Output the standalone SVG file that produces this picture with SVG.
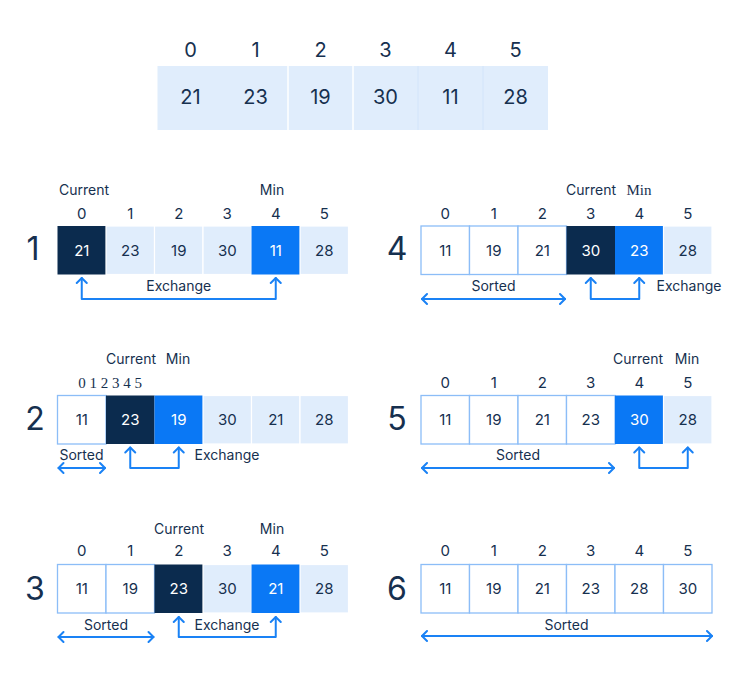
<svg xmlns="http://www.w3.org/2000/svg" width="735" height="684" viewBox="0 0 735 684">
<style>
text{font-family:Inter,"Open Sans","Liberation Sans",sans-serif;fill:#16304f;text-anchor:middle}
.idx{font-size:15px}
.top{font-size:20px}
.val{font-size:15px}
.wt{fill:#ffffff}
.lbl{font-size:14px}
.big{font-size:32px}
.serif{font-family:"Liberation Serif","DejaVu Serif",serif;font-size:15px}
.lt{fill:#e0edfc;stroke:#ffffff;stroke-width:1.2}
.sw{fill:#ffffff;stroke:#8cbdf7;stroke-width:1.3}
.dk{fill:#0b2b4e}
.bl{fill:#0a78f5}
.arr{fill:none;stroke:#1a82f5;stroke-width:2;stroke-linecap:round;stroke-linejoin:round}
</style>

<g id="initial">
<rect x="157.5" y="66" width="390.5" height="64" fill="#e0edfc"/>
<line x1="288" y1="66" x2="288" y2="130" stroke="#ffffff" stroke-width="1.5"/>
<line x1="353" y1="66" x2="353" y2="130" stroke="#ffffff" stroke-width="1.5"/>
<line x1="418" y1="66" x2="418" y2="130" stroke="#d2e4fa" stroke-width="1"/>
<line x1="483" y1="66" x2="483" y2="130" stroke="#d2e4fa" stroke-width="1"/>
<text class="top" x="190.5" y="57">0</text><text class="top" x="255.5" y="57">1</text><text class="top" x="320.5" y="57">2</text><text class="top" x="385.5" y="57">3</text><text class="top" x="450.5" y="57">4</text><text class="top" x="515.5" y="57">5</text>
<text class="top" x="190.5" y="104">21</text><text class="top" x="255.5" y="104">23</text><text class="top" x="320.5" y="104">19</text><text class="top" x="385.5" y="104">30</text><text class="top" x="450.5" y="104">11</text><text class="top" x="515.5" y="104">28</text>
</g>

<g id="step1">
<text class="big" x="33" y="260">1</text>
<text class="lbl" x="84" y="195">Current</text>
<text class="lbl" x="272" y="195">Min</text>
<rect class="dk" x="57.5" y="226" width="48.5" height="48.5"/>
<rect class="lt" x="106" y="226" width="48.5" height="48.5"/>
<rect class="lt" x="154.5" y="226" width="48.5" height="48.5"/>
<rect class="lt" x="203" y="226" width="48.5" height="48.5"/>
<rect class="bl" x="251.5" y="226" width="48.5" height="48.5"/>
<rect class="lt" x="300" y="226" width="48.5" height="48.5"/>
<text class="idx" x="81.75" y="219">0</text><text class="idx" x="130.25" y="219">1</text><text class="idx" x="178.75" y="219">2</text><text class="idx" x="227.25" y="219">3</text><text class="idx" x="275.75" y="219">4</text><text class="idx" x="324.25" y="219">5</text>
<text class="val wt" x="81.75" y="255.5">21</text><text class="val" x="130.25" y="255.5">23</text><text class="val" x="178.75" y="255.5">19</text><text class="val" x="227.25" y="255.5">30</text><text class="val wt" x="275.75" y="255.5">11</text><text class="val" x="324.25" y="255.5">28</text>
<text class="lbl" x="178.75" y="291">Exchange</text>
</g>

<g id="step2">
<text class="big" x="35" y="430">2</text>
<text class="lbl" x="131" y="364">Current</text>
<text class="lbl" x="178" y="364">Min</text>
<text class="serif" x="110" y="388">0 1 2 3 4 5</text>
<rect class="sw" x="57.5" y="395.5" width="48.5" height="48.5"/>
<rect class="dk" x="106" y="395.5" width="48.5" height="48.5"/>
<rect class="bl" x="154.5" y="395.5" width="48.5" height="48.5"/>
<rect class="lt" x="203" y="395.5" width="48.5" height="48.5"/>
<rect class="lt" x="251.5" y="395.5" width="48.5" height="48.5"/>
<rect class="lt" x="300" y="395.5" width="48.5" height="48.5"/>
<text class="val" x="81.75" y="425">11</text><text class="val wt" x="130.25" y="425">23</text><text class="val wt" x="178.75" y="425">19</text><text class="val" x="227.25" y="425">30</text><text class="val" x="275.75" y="425">21</text><text class="val" x="324.25" y="425">28</text>
<text class="lbl" x="81.5" y="460">Sorted</text>
<text class="lbl" x="227" y="460">Exchange</text>
</g>

<g id="step3">
<text class="big" x="35" y="600">3</text>
<text class="lbl" x="179" y="534">Current</text>
<text class="lbl" x="272" y="534">Min</text>
<rect class="sw" x="57.5" y="564.5" width="48.5" height="48.5"/>
<rect class="sw" x="106" y="564.5" width="48.5" height="48.5"/>
<rect class="dk" x="154.5" y="564.5" width="48.5" height="48.5"/>
<rect class="lt" x="203" y="564.5" width="48.5" height="48.5"/>
<rect class="bl" x="251.5" y="564.5" width="48.5" height="48.5"/>
<rect class="lt" x="300" y="564.5" width="48.5" height="48.5"/>
<text class="idx" x="81.75" y="556">0</text><text class="idx" x="130.25" y="556">1</text><text class="idx" x="178.75" y="556">2</text><text class="idx" x="227.25" y="556">3</text><text class="idx" x="275.75" y="556">4</text><text class="idx" x="324.25" y="556">5</text>
<text class="val" x="81.75" y="594">11</text><text class="val" x="130.25" y="594">19</text><text class="val wt" x="178.75" y="594">23</text><text class="val" x="227.25" y="594">30</text><text class="val wt" x="275.75" y="594">21</text><text class="val" x="324.25" y="594">28</text>
<text class="lbl" x="106" y="630">Sorted</text>
<text class="lbl" x="227" y="630">Exchange</text>
</g>

<g id="step4">
<text class="big" x="397" y="260">4</text>
<text class="lbl" x="591" y="195">Current</text>
<text class="serif" x="639" y="195" style="font-size:15px">Min</text>
<rect class="sw" x="421" y="226" width="48.5" height="48.5"/>
<rect class="sw" x="469.5" y="226" width="48.5" height="48.5"/>
<rect class="sw" x="518" y="226" width="48.5" height="48.5"/>
<rect class="dk" x="566.5" y="226" width="48.5" height="48.5"/>
<rect class="bl" x="615" y="226" width="48.5" height="48.5"/>
<rect class="lt" x="663.5" y="226" width="48.5" height="48.5"/>
<text class="idx" x="445.25" y="219">0</text><text class="idx" x="493.75" y="219">1</text><text class="idx" x="542.25" y="219">2</text><text class="idx" x="590.75" y="219">3</text><text class="idx" x="639.25" y="219">4</text><text class="idx" x="687.75" y="219">5</text>
<text class="val" x="445.25" y="255.5">11</text><text class="val" x="493.75" y="255.5">19</text><text class="val" x="542.25" y="255.5">21</text><text class="val wt" x="590.75" y="255.5">30</text><text class="val wt" x="639.25" y="255.5">23</text><text class="val" x="687.75" y="255.5">28</text>
<text class="lbl" x="493.5" y="291">Sorted</text>
<text class="lbl" x="689" y="291">Exchange</text>
</g>

<g id="step5">
<text class="big" x="397" y="430">5</text>
<text class="lbl" x="638" y="364">Current</text>
<text class="lbl" x="687" y="364">Min</text>
<rect class="sw" x="421" y="395.5" width="48.5" height="48.5"/>
<rect class="sw" x="469.5" y="395.5" width="48.5" height="48.5"/>
<rect class="sw" x="518" y="395.5" width="48.5" height="48.5"/>
<rect class="sw" x="566.5" y="395.5" width="48.5" height="48.5"/>
<rect class="bl" x="615" y="395.5" width="48.5" height="48.5"/>
<rect class="lt" x="663.5" y="395.5" width="48.5" height="48.5"/>
<text class="idx" x="445.25" y="388">0</text><text class="idx" x="493.75" y="388">1</text><text class="idx" x="542.25" y="388">2</text><text class="idx" x="590.75" y="388">3</text><text class="idx" x="639.25" y="388">4</text><text class="idx" x="687.75" y="388">5</text>
<text class="val" x="445.25" y="425">11</text><text class="val" x="493.75" y="425">19</text><text class="val" x="542.25" y="425">21</text><text class="val" x="590.75" y="425">23</text><text class="val wt" x="639.25" y="425">30</text><text class="val" x="687.75" y="425">28</text>
<text class="lbl" x="518" y="460">Sorted</text>
</g>

<g id="step6">
<text class="big" x="397" y="600">6</text>
<rect class="sw" x="421" y="564.5" width="48.5" height="48.5"/>
<rect class="sw" x="469.5" y="564.5" width="48.5" height="48.5"/>
<rect class="sw" x="518" y="564.5" width="48.5" height="48.5"/>
<rect class="sw" x="566.5" y="564.5" width="48.5" height="48.5"/>
<rect class="sw" x="615" y="564.5" width="48.5" height="48.5"/>
<rect class="sw" x="663.5" y="564.5" width="48.5" height="48.5"/>
<text class="idx" x="445.25" y="556">0</text><text class="idx" x="493.75" y="556">1</text><text class="idx" x="542.25" y="556">2</text><text class="idx" x="590.75" y="556">3</text><text class="idx" x="639.25" y="556">4</text><text class="idx" x="687.75" y="556">5</text>
<text class="val" x="445.25" y="594">11</text><text class="val" x="493.75" y="594">19</text><text class="val" x="542.25" y="594">21</text><text class="val" x="590.75" y="594">23</text><text class="val" x="639.25" y="594">28</text><text class="val" x="687.75" y="594">30</text>
<text class="lbl" x="566.5" y="630">Sorted</text>
</g>

<g id="connectors">
<path class="arr" d="M81.75,299 V278 M275.75,299 V278 M81.75,299 H275.75"/>
<path class="arr" d="M76.75,283 L81.75,278 L86.75,283 M270.75,283 L275.75,278 L280.75,283"/>

<path class="arr" d="M130.25,468 V447.5 M178.75,468 V447.5 M130.25,468 H178.75"/>
<path class="arr" d="M125.25,452.5 L130.25,447.5 L135.25,452.5 M173.75,452.5 L178.75,447.5 L183.75,452.5"/>
<path class="arr" d="M58.5,468 H105"/>
<path class="arr" d="M63.5,463 L58.5,468 L63.5,473 M100,463 L105,468 L100,473"/>

<path class="arr" d="M178.75,637 V617 M275.75,637 V617 M178.75,637 H275.75"/>
<path class="arr" d="M173.75,622 L178.75,617 L183.75,622 M270.75,622 L275.75,617 L280.75,622"/>
<path class="arr" d="M58.5,637 H153.5"/>
<path class="arr" d="M63.5,632 L58.5,637 L63.5,642 M148.5,632 L153.5,637 L148.5,642"/>

<path class="arr" d="M590.75,299 V278 M639.25,299 V278 M590.75,299 H639.25"/>
<path class="arr" d="M585.75,283 L590.75,278 L595.75,283 M634.25,283 L639.25,278 L644.25,283"/>
<path class="arr" d="M422,299 H565"/>
<path class="arr" d="M427,294 L422,299 L427,304 M560,294 L565,299 L560,304"/>

<path class="arr" d="M639.25,468 V447.5 M687.75,468 V447.5 M639.25,468 H687.75"/>
<path class="arr" d="M634.25,452.5 L639.25,447.5 L644.25,452.5 M682.75,452.5 L687.75,447.5 L692.75,452.5"/>
<path class="arr" d="M422,468 H614"/>
<path class="arr" d="M427,463 L422,468 L427,473 M609,463 L614,468 L609,473"/>

<path class="arr" d="M422,636 H712"/>
<path class="arr" d="M427,631 L422,636 L427,641 M707,631 L712,636 L707,641"/>
</g>
</svg>
